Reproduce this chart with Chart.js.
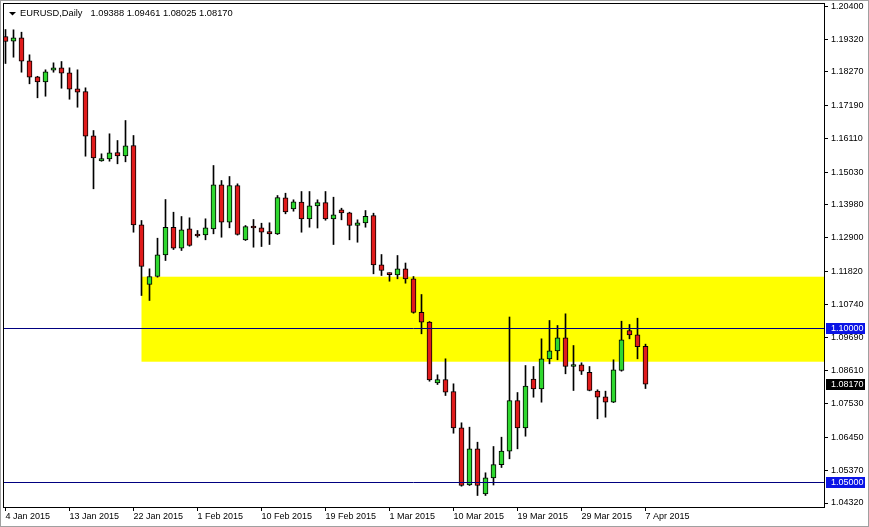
<!DOCTYPE html>
<html>
<head>
    <title>EURUSD,Daily</title>
    <script src="https://cdn.jsdelivr.net/npm/chart.js"></script>
    <style>
        body { margin: 0; background: #fff; overflow: hidden; }
    </style>
</head>
<body>
    <canvas id="myChart" width="869" height="527"></canvas>

    <script>
        // daily candles (broker with Sunday bars)
        const dates = [
            '4 Jan 2015','5 Jan 2015','6 Jan 2015','7 Jan 2015','8 Jan 2015','9 Jan 2015',
            '11 Jan 2015','12 Jan 2015','13 Jan 2015','14 Jan 2015','15 Jan 2015','16 Jan 2015',
            '18 Jan 2015','19 Jan 2015','20 Jan 2015','21 Jan 2015','22 Jan 2015','23 Jan 2015',
            '25 Jan 2015','26 Jan 2015','27 Jan 2015','28 Jan 2015','29 Jan 2015','30 Jan 2015',
            '1 Feb 2015','2 Feb 2015','3 Feb 2015','4 Feb 2015','5 Feb 2015','6 Feb 2015',
            '8 Feb 2015','9 Feb 2015','10 Feb 2015','11 Feb 2015','12 Feb 2015','13 Feb 2015',
            '15 Feb 2015','16 Feb 2015','17 Feb 2015','18 Feb 2015','19 Feb 2015','20 Feb 2015',
            '22 Feb 2015','23 Feb 2015','24 Feb 2015','25 Feb 2015','26 Feb 2015','27 Feb 2015',
            '1 Mar 2015','2 Mar 2015','3 Mar 2015','4 Mar 2015','5 Mar 2015','6 Mar 2015',
            '8 Mar 2015','9 Mar 2015','10 Mar 2015','11 Mar 2015','12 Mar 2015','13 Mar 2015',
            '15 Mar 2015','16 Mar 2015','17 Mar 2015','18 Mar 2015','19 Mar 2015','20 Mar 2015',
            '22 Mar 2015','23 Mar 2015','24 Mar 2015','25 Mar 2015','26 Mar 2015','27 Mar 2015',
            '29 Mar 2015','30 Mar 2015','31 Mar 2015','1 Apr 2015','2 Apr 2015','3 Apr 2015',
            '5 Apr 2015','6 Apr 2015','7 Apr 2015'
        ];

        const opens = [
            1.19417,1.19265,1.19375,1.18631,1.18110,1.17951,
            1.18327,1.18404,1.18243,1.17725,1.17637,1.16204,
            1.15395,1.15459,1.15663,1.15557,1.15890,1.13324,
            1.11392,1.11650,1.12353,1.13246,1.12566,1.13194,
            1.12977,1.13000,1.13194,1.14618,1.13408,1.14595,
            1.12838,1.13236,1.13226,1.13107,1.13032,1.14197,
            1.13835,1.14061,1.13518,1.13932,1.14039,1.13518,
            1.13809,1.13712,1.13301,1.13388,1.13625,1.12029,
            1.11715,1.11705,1.11900,1.11576,1.10495,1.10172,
            1.08210,1.08317,1.07929,1.06754,1.04909,1.06074,
            1.04618,1.05136,1.05560,1.05997,1.07638,1.06754,
            1.08333,1.08016,1.08987,1.09246,1.09667,1.08738,
            1.08793,1.08553,1.07939,1.07757,1.07583,1.08608,
            1.09903,1.09764,1.09388
        ];
        const highs = [
            1.19644,1.19634,1.19557,1.18825,1.18130,1.18340,
            1.18566,1.18608,1.18404,1.18340,1.17757,1.16375,
            1.15621,1.16269,1.16052,1.16699,1.16214,1.13463,
            1.11900,1.12890,1.14142,1.13731,1.13592,1.13550,
            1.13139,1.13518,1.15243,1.14757,1.14887,1.14650,
            1.13301,1.13495,1.13375,1.13388,1.14272,1.14346,
            1.14133,1.14401,1.14401,1.14133,1.14401,1.14217,
            1.13861,1.13731,1.13485,1.13786,1.13699,1.12362,
            1.11770,1.12330,1.12087,1.11650,1.11068,1.10194,
            1.08469,1.08987,1.08178,1.06916,1.06774,1.06288,
            1.05298,1.06149,1.06450,1.10340,1.07896,1.08770,
            1.08738,1.09634,1.10227,1.10065,1.10443,1.09417,
            1.08858,1.08738,1.07984,1.07940,1.08955,1.10204,
            1.10097,1.10301,1.09461
        ];
        const lows = [
            1.18544,1.18748,1.18262,1.17887,1.17434,1.17485,
            1.18262,1.17744,1.17388,1.17129,1.15544,1.14489,
            1.15380,1.15382,1.15298,1.15362,1.13084,1.11036,
            1.10874,1.11628,1.12168,1.12524,1.12492,1.12631,
            1.12922,1.12838,1.13032,1.12922,1.13226,1.12990,
            1.12815,1.12599,1.12621,1.12686,1.13010,1.13680,
            1.13764,1.13084,1.13246,1.13220,1.13472,1.12686,
            1.13485,1.12838,1.12760,1.13246,1.11738,1.11683,
            1.11498,1.11576,1.11434,1.10463,1.09796,1.08262,
            1.08155,1.07799,1.06579,1.04864,1.04887,1.04563,
            1.04563,1.04903,1.05469,1.05751,1.06074,1.06482,
            1.07744,1.07583,1.08825,1.08955,1.08502,1.07961,
            1.08479,1.07950,1.07045,1.07097,1.07570,1.08586,
            1.09634,1.08987,1.08025
        ];
        const closes = [
            1.19256,1.19375,1.18618,1.18100,1.17951,1.18275,
            1.18404,1.18230,1.17712,1.17615,1.16191,1.15492,
            1.15469,1.15654,1.15557,1.15880,1.13324,1.11974,
            1.11650,1.12353,1.13246,1.12566,1.13162,1.12654,
            1.12960,1.13226,1.14618,1.13408,1.14595,1.13010,
            1.13269,1.13220,1.13084,1.13032,1.14207,1.13738,
            1.14068,1.13518,1.13938,1.14039,1.13518,1.13647,
            1.13712,1.13301,1.13388,1.13602,1.12029,1.11845,
            1.11710,1.11900,1.11576,1.10485,1.10172,1.08307,
            1.08317,1.07906,1.06754,1.04887,1.06074,1.04887,
            1.05136,1.05560,1.05997,1.07638,1.06754,1.08107,
            1.08016,1.08987,1.09246,1.09667,1.08738,1.08803,
            1.08586,1.07961,1.07744,1.07583,1.08631,1.09602,
            1.09764,1.09380,1.08170
        ];

        // price scale labels shown by the terminal
        const yTicks = [1.20400, 1.19320, 1.18270, 1.17190, 1.16110, 1.15030, 1.13980, 1.12900,
                        1.11820, 1.10740, 1.09690, 1.08610, 1.07530, 1.06450, 1.05370, 1.04320];

        // drawn objects
        const levels = [1.10000, 1.05000];
        const zoneStart = 17;
        const zoneHigh = 1.11644;
        const zoneLow = 1.08893;

        const symbol = 'EURUSD,Daily';

        const FONT = '9.3px "Liberation Sans", Tahoma, Arial, sans-serif';
        const bull = '#2fd82f';
        const bear = '#e01b1b';
        const last = closes.length - 1;

        Chart.defaults.font.family = '"Liberation Sans", Tahoma, Arial, sans-serif';
        Chart.defaults.font.size = 9;
        Chart.defaults.color = '#000';

        const mtPlugin = {
            id: 'mt',
            beforeDatasetsDraw(chart) {
                const { ctx, chartArea: a, scales: { x, y } } = chart;
                const x0 = x.getPixelForValue(zoneStart);
                const y0 = y.getPixelForValue(zoneHigh);
                const y1 = y.getPixelForValue(zoneLow);
                ctx.save();
                ctx.fillStyle = '#ffff00';
                ctx.fillRect(x0, y0, a.right - x0, y1 - y0);
                ctx.restore();
            },
            afterDatasetsDraw(chart) {
                const { ctx, chartArea: a, scales: { y } } = chart;
                ctx.save();
                ctx.strokeStyle = '#000080';
                ctx.lineWidth = 1;
                levels.forEach(v => {
                    const py = Math.round(y.getPixelForValue(v)) + 0.5;
                    ctx.beginPath();
                    ctx.moveTo(a.left, py);
                    ctx.lineTo(a.right, py);
                    ctx.stroke();
                });
                ctx.restore();
            },
            afterDraw(chart) {
                const { ctx, chartArea: a, scales: { y } } = chart;
                ctx.save();
                // window border + chart frame
                ctx.strokeStyle = '#a0a0a0';
                ctx.strokeRect(0.5, 0.5, chart.width - 1, chart.height - 1);
                ctx.strokeStyle = '#000';
                ctx.strokeRect(a.left + 0.5, a.top + 0.5, a.right - a.left, a.bottom - a.top);

                // title
                ctx.fillStyle = '#000';
                ctx.beginPath();
                ctx.moveTo(9, 12);
                ctx.lineTo(16, 12);
                ctx.lineTo(12.5, 15.5);
                ctx.closePath();
                ctx.fill();
                ctx.font = FONT;
                ctx.textBaseline = 'middle';
                ctx.textAlign = 'left';
                const ohlc = [opens[last], highs[last], lows[last], closes[last]].map(v => v.toFixed(5)).join(' ');
                ctx.fillText(symbol, 20, 13.5);
                ctx.fillText(ohlc, 20 + ctx.measureText(symbol).width + 8, 13.5);

                // price labels of levels and last close
                const tags = levels.map(v => ({ v, bg: '#0a14e6' }));
                tags.push({ v: closes[last], bg: '#000' });
                ctx.font = '9px "Liberation Sans", Tahoma, Arial, sans-serif';
                tags.forEach(t => {
                    const py = Math.round(y.getPixelForValue(t.v));
                    ctx.fillStyle = t.bg;
                    ctx.fillRect(a.right + 2, py - 5, 39, 11);
                    ctx.fillStyle = '#fff';
                    ctx.fillText(t.v.toFixed(5), a.right + 7, py + 0.5);
                });
                ctx.restore();
            }
        };

        const ctx = document.getElementById('myChart').getContext('2d');

        new Chart(ctx, {
            type: 'bar',
            data: {
                datasets: [{
                    label: 'body',
                    order: 1,
                    data: opens.map((o, i) => ({ x: i, y: [o, closes[i]] })),
                    backgroundColor: opens.map((o, i) => closes[i] >= o ? bull : bear),
                    borderColor: '#000',
                    borderWidth: 1,
                    borderSkipped: false,
                    barThickness: 5,
                    minBarLength: 2,
                    grouped: false
                }, {
                    label: 'wick',
                    order: 2,
                    data: lows.map((l, i) => ({ x: i, y: [l, highs[i]] })),
                    backgroundColor: '#000',
                    borderWidth: 0,
                    barThickness: 1,
                    grouped: false
                }]
            },
            options: {
                responsive: false,
                animation: false,
                devicePixelRatio: 1,
                layout: { padding: { left: 3, top: 3, right: 0, bottom: 0 } },
                plugins: { legend: { display: false }, tooltip: { enabled: false } },
                scales: {
                    x: {
                        type: 'linear',
                        offset: false,
                        min: -0.3125,
                        max: 102.3125,
                        afterBuildTicks: s => {
                            s.ticks = dates.map((d, i) => ({ value: i })).filter(t => t.value % 8 === 0);
                        },
                        afterFit: s => { s.height = 20; s.paddingLeft = 0; s.paddingRight = 0; },
                        grid: { drawOnChartArea: false, drawTicks: true, tickLength: 4, color: '#000', offset: false },
                        border: { display: false },
                        ticks: {
                            autoSkip: false,
                            maxRotation: 0,
                            align: 'start',
                            padding: 0,
                            font: { size: 9 },
                            color: '#000',
                            callback: v => dates[v]
                        }
                    },
                    y: {
                        type: 'linear',
                        position: 'right',
                        min: 1.04191,
                        max: 1.20502,
                        afterBuildTicks: s => { s.ticks = yTicks.map(v => ({ value: v })); },
                        afterFit: s => { s.width = 45; s.paddingTop = 0; s.paddingBottom = 0; },
                        grid: { drawOnChartArea: false, drawTicks: true, tickLength: 4, color: '#000' },
                        border: { display: false },
                        ticks: {
                            autoSkip: false,
                            padding: 3,
                            font: { size: 9 },
                            color: '#000',
                            callback: v => v.toFixed(5)
                        }
                    }
                }
            },
            plugins: [mtPlugin]
        });
    </script>
</body>
</html>
